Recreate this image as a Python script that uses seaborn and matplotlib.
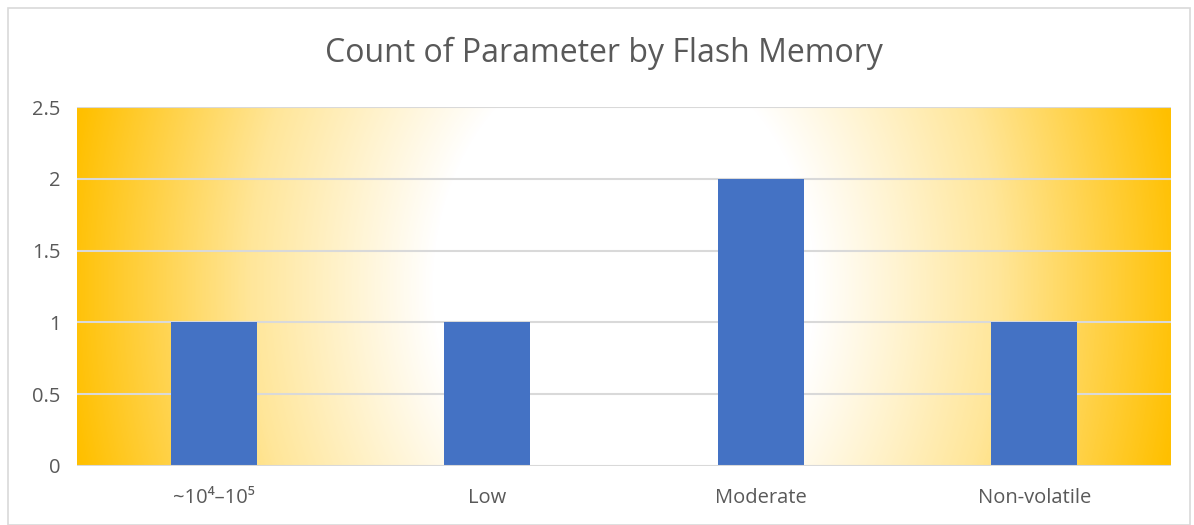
import numpy as np
import pandas as pd
import matplotlib.pyplot as plt
import seaborn as sns
from matplotlib.colors import LinearSegmentedColormap
from matplotlib.patches import Rectangle

categories = ["~10⁴–10⁵", "Low", "Moderate", "Non-volatile"]
counts = [1, 1, 2, 1]
y_ticks = [0, 0.5, 1, 1.5, 2, 2.5]
y_labels = ["0", "0.5", "1", "1.5", "2", "2.5"]

df = pd.DataFrame({"category": categories, "count": counts})

sns.set_theme(style="white")
plt.rcParams["font.family"] = ["Open Sans", "DejaVu Sans"]

fig = plt.figure(figsize=(11.94, 5.25), dpi=100)
ax = fig.add_axes([0.0645, 0.1124, 0.9162, 0.6836])

# elliptical gradient: white in the middle, gold towards the edges
w_px, h_px = 1094, 359
gx, gy = np.meshgrid(np.arange(w_px) - w_px / 2, np.arange(h_px) - h_px / 2)
d = np.sqrt(gx ** 2 + (gy / 1.26) ** 2)
t = np.clip((d - 190) / 370, 0, 1)
cmap = LinearSegmentedColormap.from_list("gold", ["#FFFFFF", "#FFE699", "#FFC000"])
ax.imshow(t, cmap=cmap, vmin=0, vmax=1, aspect="auto",
          extent=[-0.5, 3.5, 0, 2.5], zorder=0)

sns.barplot(data=df, x="category", y="count", color="#4472C4", saturation=1,
            width=0.315, linewidth=0, ax=ax, zorder=3)

ax.set_xlim(-0.5, 3.5)
ax.set_ylim(0, 2.5)
ax.set_yticks(y_ticks)
ax.set_yticklabels(y_labels)
for y in y_ticks[1:]:
    ax.axhline(y, color="#D9D9D9", lw=1.5, zorder=2)
ax.axhline(0, color="#D9D9D9", lw=1.5, zorder=4)

for s in ax.spines.values():
    s.set_visible(False)
ax.tick_params(axis="y", length=0, pad=12, labelsize=14.5, labelcolor="#595959")
ax.tick_params(axis="x", length=0, pad=16, labelsize=14.5, labelcolor="#595959")
ax.set_xlabel("")
ax.set_ylabel("")

fig.suptitle("Count of Parameter by Flash Memory", x=0.506, y=0.93,
             fontsize=23, color="#595959")

fig.patches.append(Rectangle((0.007, 0.0), 0.99, 0.985, transform=fig.transFigure,
                             fill=False, edgecolor="#D9D9D9", lw=1.2))

fig.savefig("out.png", dpi=100)
